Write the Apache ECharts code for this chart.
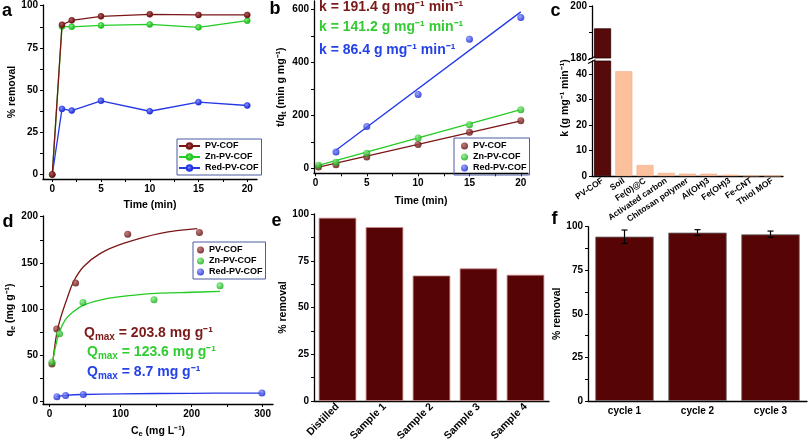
<!DOCTYPE html>
<html><head><meta charset="utf-8">
<script src="https://cdn.jsdelivr.net/npm/echarts@6/dist/echarts.min.js"></script>
<style>html,body{margin:0;padding:0;background:#fff}#c{width:808px;height:447px}</style>
</head><body><div id="c"></div>
<script>
// ---------------- data ----------------
const names = ['PV-COF', 'Zn-PV-COF', 'Red-PV-COF'];
// a: removal vs time
const timeA = [0, 1, 2, 5, 10, 15, 20];
const pvRemovalA = [0, 88.7, 91.3, 93.7, 94.9, 94.5, 94.5];
const znRemovalA = [0, 87.7, 87.5, 88.3, 88.9, 87.2, 91.1];
const redRemovalA = [0, 38.9, 37.9, 43.7, 37.5, 42.9, 40.9];
// b: pseudo-second-order plot
const timeB = [0.3, 2, 5, 10, 15, 20];
const pvB = [6, 15, 44, 91, 137, 180];
const znB = [13, 24, 58, 115, 165, 222];
const timeBRed = [2, 5, 10, 15, 20];
const redB = [63, 159, 279, 487, 569];
const fitTimeB = [0.1, 20];
const pvFitB = [4, 180];
const znFitB = [11, 222];
const fitTimeBRed = [1.8, 20];
const redFitB = [64, 590];
const kLabels = ['k = 191.4 g mg\u207B\u00B9 min\u207B\u00B9', 'k = 141.2 g mg\u207B\u00B9 min\u207B\u00B9', 'k = 86.4 g mg\u207B\u00B9 min\u207B\u00B9'];
// c: rate constants
const adsorbents = ['PV-COF', 'Soil', 'Fe(0)@C', 'Activated carbon', 'Chitosan polymer', 'Al(OH)3', 'Fe(OH)3', 'Fe-CNT', 'Thiol MOF'];
const kValues = [191.4, 41.0, 4.3, 1.2, 0.9, 0.9, 0.5, 0.15, 0.1];
// d: isotherms
const cePV = [3.3, 10, 36.6, 110, 211];
const qePV = [40, 78, 128, 181, 183];
const ceZn = [3.3, 14, 47, 147, 240];
const qeZn = [42, 73, 107, 110, 125];
const ceRed = [10.3, 22.5, 47.4, 299];
const qeRed = [4.7, 5.8, 6.9, 8.7];
const pvFitCe = [4, 6, 10, 15, 24.5, 34, 48, 71, 104, 156, 208];
const pvFitQe = [38, 52, 73, 89, 111, 130, 146, 160, 171, 182, 187];
const znFitCe = [3.5, 8, 14, 22, 32, 48, 80, 120, 156, 200, 240];
const znFitQe = [38, 58, 75, 88, 96, 104, 111, 115, 117, 118, 119];
const redFitCe = [10, 22, 47, 100, 200, 299];
const redFitQe = [4.9, 6.0, 7.0, 7.8, 8.3, 8.6];
const qmaxLabels = ['203.8', '123.6', '8.7'];
// e: water samples
const samples = ['Distilled', 'Sample 1', 'Sample 2', 'Sample 3', 'Sample 4'];
const sampleRemoval = [98.0, 93.0, 67.1, 70.9, 67.5];
// f: recycling
const cycles = ['cycle 1', 'cycle 2', 'cycle 3'];
const cycleRemoval = [94.3, 96.6, 95.6];
const cycleErrLow = [90.4, 95.0, 93.9];
const cycleErrHigh = [98.1, 98.3, 97.5];

// ---------------- styles ----------------
const F = "'Liberation Sans', Arial, Helvetica, sans-serif";
const lineCol = ['#7a1616', '#22cc22', '#2438e8'];
const textCol = ['#7a1a1a', '#33cc33', '#2442e6'];
function ball(light, dark) {
  return {type: 'radial', x: 0.38, y: 0.35, r: 0.65, colorStops: [{offset: 0, color: light}, {offset: 1, color: dark}]};
}
const balls = [ball('#b45a5a', '#5a0808'), ball('#80f080', '#10aa10'), ball('#8490ff', '#1020d0')];
const AXL = {color: '#000', width: 1.3};
const nameStyle = {fontSize: 10.5, fontWeight: 'bold', color: '#000', fontFamily: F};
function vAxis(grid, min, max, labels, ticks, extra) {
  return Object.assign({
    type: 'value', gridIndex: grid, min: min, max: max,
    axisLine: {show: true, onZero: false, lineStyle: AXL},
    axisTick: {show: true, length: 3, lineStyle: {color: '#000', width: 1}, customValues: ticks},
    axisLabel: {fontSize: 10, fontWeight: 'bold', color: '#000', fontFamily: F, margin: 5, customValues: labels},
    splitLine: {show: false},
    nameLocation: 'middle', nameTextStyle: nameStyle
  }, extra || {});
}
function cAxis(grid, data, labelExtra, extra) {
  return Object.assign({
    type: 'category', gridIndex: grid, data: data,
    axisLine: {show: true, onZero: false, lineStyle: AXL},
    axisTick: {show: false},
    axisLabel: Object.assign({fontSize: 10, fontWeight: 'bold', color: '#000', fontFamily: F, margin: 4, interval: 0}, labelExtra || {}),
    splitLine: {show: false}
  }, extra || {});
}
const zip = (xs, ys) => xs.map((x, i) => [x, ys[i]]);
const legendBase = {
  orient: 'vertical', selectedMode: false, borderColor: '#4b5da0', borderWidth: 1,
  itemGap: 1, textStyle: {fontSize: 9, fontWeight: 'bold', color: '#000', fontFamily: F, lineHeight: 10},
  formatter: n => n.slice(2)
};
const subRich = {
  a: {fontSize: 10.5, fontWeight: 'bold', fontFamily: F, color: '#000', lineHeight: 14},
  s: {fontSize: 7.5, fontWeight: 'bold', fontFamily: F, color: '#000', lineHeight: 8, verticalAlign: 'bottom'}
};

// ---------------- option ----------------
const option = {
  backgroundColor: '#fff',
  animation: false,
  grid: [
    {left: 43, top: 5, width: 214, height: 174},        // a
    {left: 314, top: 1, width: 214, height: 172.3},     // b
    {left: 592, top: 6, width: 191, height: 52},        // c upper
    {left: 592, top: 61, width: 191, height: 115},      // c lower
    {left: 43, top: 216, width: 230, height: 188},      // d
    {left: 314, top: 214, width: 235, height: 187},     // e
    {left: 588, top: 226.7, width: 219, height: 174.3}  // f
  ],
  xAxis: [
    vAxis(0, -0.95, 21, [0, 5, 10, 15, 20], [0, 2.5, 5, 7.5, 10, 12.5, 15, 17.5, 20], {name: 'Time (min)', nameGap: 21}),
    vAxis(1, -0.14, 20.7, [0, 5, 10, 15, 20], [0, 2.5, 5, 7.5, 10, 12.5, 15, 17.5, 20], {name: 'Time (min)', nameGap: 22}),
    cAxis(2, adsorbents, {show: false}, {axisLine: {show: false}}),
    cAxis(3, adsorbents, {rotate: 34, fontSize: 8.5, margin: 4}),
    vAxis(4, -9.3, 314.6, [0, 100, 200, 300], [0, 50, 100, 150, 200, 250, 300], {
      name: '{a|C}{s|e}{a| (mg L\u207B\u00B9)}', nameGap: 20, nameTextStyle: Object.assign({}, nameStyle, {rich: subRich})}),
    cAxis(5, samples, {rotate: 45, fontSize: 10.5, margin: 4}),
    cAxis(6, cycles, {fontSize: 10, margin: 5})
  ],
  yAxis: [
    vAxis(0, -2.6, 100.4, [0, 25, 50, 75, 100], [0, 12.5, 25, 37.5, 50, 62.5, 75, 87.5, 100], {name: '% removal', nameGap: 24}),
    vAxis(1, -17.4, 631, [0, 200, 400, 600], [0, 100, 200, 300, 400, 500, 600], {
      name: '{a|t/q}{s|t}{a| (min g mg\u207B\u00B9)}', nameGap: 22, nameTextStyle: Object.assign({}, nameStyle, {rich: subRich})}),
    vAxis(2, 180, 200, [180, 200], [180, 190, 200]),
    vAxis(3, 0, 45, [0, 10, 20, 30, 40], [0, 10, 20, 30, 40]),
    vAxis(4, -3.3, 200.8, [0, 50, 100, 150, 200], [0, 25, 50, 75, 100, 125, 150, 175, 200], {
      name: '{a|q}{s|e}{a| (mg g\u207B\u00B9)}', nameGap: 25, nameTextStyle: Object.assign({}, nameStyle, {rich: subRich})}),
    vAxis(5, 0, 100, [0, 25, 50, 75, 100], [0, 12.5, 25, 37.5, 50, 62.5, 75, 87.5, 100], {name: '% removal', nameGap: 25}),
    vAxis(6, 0, 100, [0, 25, 50, 75, 100], [0, 12.5, 25, 37.5, 50, 62.5, 75, 87.5, 100], {name: '% removal', nameGap: 21})
  ],
  legend: [
    Object.assign({}, legendBase, {left: 177, top: 139, padding: [2, 3, 2, 1], itemWidth: 21, itemHeight: 7,
      data: names.map(n => 'a:' + n)}),
    Object.assign({}, legendBase, {left: 454, top: 138, padding: [3, 3, 2, 7], itemWidth: 7, itemHeight: 7, icon: 'circle',
      data: names.map(n => 'b:' + n)}),
    Object.assign({}, legendBase, {left: 193, top: 242, padding: [3, 3, 2, 4], itemWidth: 7, itemHeight: 7, icon: 'circle',
      data: names.map(n => 'd:' + n)})
  ],
  series: []
};

// a
[redRemovalA, znRemovalA, pvRemovalA].forEach((arr, k) => {
  const i = 2 - k;
  option.series.push({
    type: 'line', name: 'a:' + names[i], xAxisIndex: 0, yAxisIndex: 0, data: zip(timeA, arr),
    symbol: 'circle', symbolSize: 6, lineStyle: {color: lineCol[i], width: 1.3},
    itemStyle: {color: balls[i], borderColor: lineCol[i], borderWidth: 0.6}, z: 3 + k
  });
});
// b
const bX = [timeB, timeB, timeBRed], bY = [pvB, znB, redB];
const bFX = [fitTimeB, fitTimeB, fitTimeBRed], bFY = [pvFitB, znFitB, redFitB];
names.forEach((n, i) => {
  option.series.push({type: 'line', name: 'bfit' + i, xAxisIndex: 1, yAxisIndex: 1, data: zip(bFX[i], bFY[i]),
    symbol: 'none', lineStyle: {color: lineCol[i], width: 1.3}, z: 2});
  option.series.push({type: 'scatter', name: 'b:' + n, xAxisIndex: 1, yAxisIndex: 1, data: zip(bX[i], bY[i]),
    symbolSize: 7, itemStyle: {color: balls[i]}, z: 3});
});
// c
const cData = kValues.map((v, i) => ({value: v, itemStyle: i === 0
  ? {color: '#580a0a', borderColor: '#2e0000', borderWidth: 0.8}
  : {color: '#fbc09c', borderColor: '#f4ad86', borderWidth: 0.6}}));
[2, 3].forEach(g => option.series.push({type: 'bar', xAxisIndex: g, yAxisIndex: g, data: cData, barCategoryGap: '20%', clip: true}));
// d
const dX = [cePV, ceZn, ceRed], dY = [qePV, qeZn, qeRed];
const dFX = [pvFitCe, znFitCe, redFitCe], dFY = [pvFitQe, znFitQe, redFitQe];
names.forEach((n, i) => {
  option.series.push({type: 'line', name: 'dfit' + i, xAxisIndex: 4, yAxisIndex: 4, data: zip(dFX[i], dFY[i]),
    symbol: 'none', smooth: 0.4, lineStyle: {color: lineCol[i], width: 1.3}, z: 2});
  option.series.push({type: 'scatter', name: 'd:' + n, xAxisIndex: 4, yAxisIndex: 4, data: zip(dX[i], dY[i]),
    symbolSize: 7, itemStyle: {color: balls[i]}, z: 3});
});
// e
option.series.push({type: 'bar', xAxisIndex: 5, yAxisIndex: 5, data: sampleRemoval, barCategoryGap: '20%',
  itemStyle: {color: '#560404', borderColor: '#c98a8a', borderWidth: 0.8}});
// f
option.series.push({type: 'bar', xAxisIndex: 6, yAxisIndex: 6, data: cycleRemoval, barCategoryGap: '20%',
  itemStyle: {color: '#560404', borderColor: '#6e6e6e', borderWidth: 0.8}});
option.series.push({
  type: 'custom', xAxisIndex: 6, yAxisIndex: 6, z: 5,
  data: cycles.map((c, i) => [i, cycleErrLow[i], cycleErrHigh[i]]),
  encode: {x: 0, y: [1, 2]},
  renderItem: function (params, api) {
    const lo = api.coord([api.value(0), api.value(1)]);
    const hi = api.coord([api.value(0), api.value(2)]);
    const w = 3, st = {stroke: '#000', lineWidth: 1.2};
    return {type: 'group', children: [
      {type: 'line', shape: {x1: lo[0], y1: lo[1], x2: hi[0], y2: hi[1]}, style: st},
      {type: 'line', shape: {x1: lo[0] - w, y1: lo[1], x2: lo[0] + w, y2: lo[1]}, style: st},
      {type: 'line', shape: {x1: hi[0] - w, y1: hi[1], x2: hi[0] + w, y2: hi[1]}, style: st}
    ]};
  }
});

// ---------------- annotations ----------------
const letter = (t, x, y) => ({type: 'text', x: x, y: y, style: {text: t, fontSize: 18, fontWeight: 'bold', fontFamily: F, fill: '#000', align: 'center', verticalAlign: 'middle'}});
const graphic = [
  letter('a', 7, 10.7), letter('b', 275, 8.7), letter('c', 555.5, 10.7),
  letter('d', 8, 221.7), letter('e', 276.5, 220.7), letter('f', 554.5, 218.7),
  {type: 'text', x: 565, y: 98, rotation: Math.PI / 2,
    style: {text: 'k (g mg\u207B\u00B9 min\u207B\u00B9)', fontSize: 10.5, fontWeight: 'bold', fontFamily: F, fill: '#000', align: 'center', verticalAlign: 'middle'}},
  {type: 'line', shape: {x1: 588, y1: 60, x2: 595.5, y2: 56.3}, style: {stroke: '#000', lineWidth: 1.2}},
  {type: 'line', shape: {x1: 588, y1: 63.5, x2: 595.5, y2: 59.8}, style: {stroke: '#000', lineWidth: 1.2}}
];
const kY = [7, 27.5, 50];
kLabels.forEach((t, i) => graphic.push({type: 'text', x: 319, y: kY[i],
  style: {text: t, fontSize: 14, fontWeight: 'bold', fontFamily: F, fill: textCol[i], align: 'left', verticalAlign: 'middle'}}));
const qY = [333.3, 352, 372], qX = [84, 87, 87];
qmaxLabels.forEach((q, i) => graphic.push({type: 'text', x: qX[i], y: qY[i],
  style: {text: '{m|Q}{s|max}{m| = ' + q + ' mg g\u207B\u00B9}', align: 'left', verticalAlign: 'middle',
    rich: {
      m: {fontSize: 14, fontWeight: 'bold', fontFamily: F, fill: textCol[i], color: textCol[i], lineHeight: 18},
      s: {fontSize: 10, fontWeight: 'bold', fontFamily: F, fill: textCol[i], color: textCol[i], lineHeight: 11, verticalAlign: 'bottom'}
    }}}));
option.graphic = graphic;

const chart = echarts.init(document.getElementById('c'), null, {renderer: 'canvas'});
chart.setOption(option);
</script>
</body></html>
